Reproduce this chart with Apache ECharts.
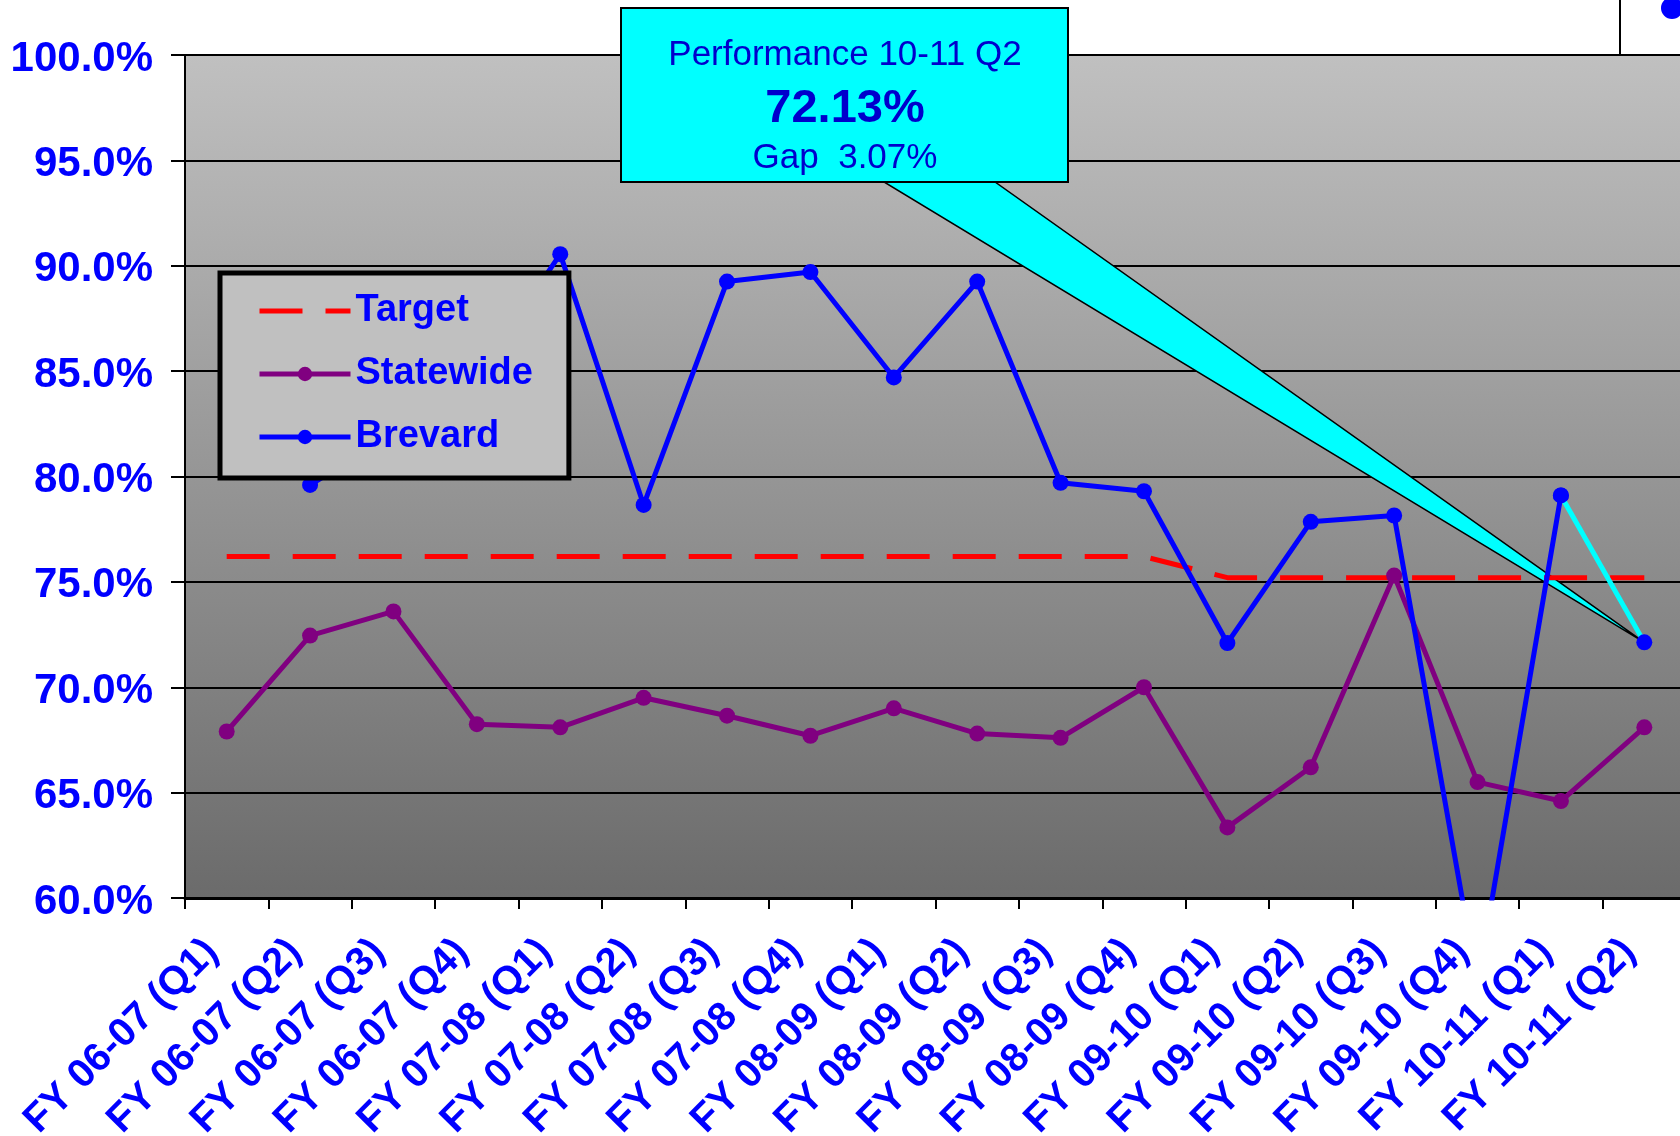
<!DOCTYPE html>
<html>
<head>
<meta charset="utf-8">
<script src="https://cdn.jsdelivr.net/npm/echarts@6/dist/echarts.min.js"></script>
<style>
  html, body { margin: 0; padding: 0; background: #fff; overflow: hidden; }
  #main { width: 1680px; height: 1136px; }
</style>
</head>
<body>
<div id="main"></div>
<script>
var quarters = [
  'FY 06-07 (Q1)', 'FY 06-07 (Q2)', 'FY 06-07 (Q3)', 'FY 06-07 (Q4)',
  'FY 07-08 (Q1)', 'FY 07-08 (Q2)', 'FY 07-08 (Q3)', 'FY 07-08 (Q4)',
  'FY 08-09 (Q1)', 'FY 08-09 (Q2)', 'FY 08-09 (Q3)', 'FY 08-09 (Q4)',
  'FY 09-10 (Q1)', 'FY 09-10 (Q2)', 'FY 09-10 (Q3)', 'FY 09-10 (Q4)',
  'FY 10-11 (Q1)', 'FY 10-11 (Q2)'
];
var target = [76.2, 76.2, 76.2, 76.2, 76.2, 76.2, 76.2, 76.2, 76.2, 76.2, 76.2, 76.2,
  75.2, 75.2, 75.2, 75.2, 75.2, 75.2];
var statewide = [67.9, 72.45, 73.6, 68.25, 68.1, 69.5, 68.65, 67.7, 69.0, 67.8, 67.6, 70.0,
  63.35, 66.2, 75.3, 65.5, 64.6, 68.1];
var brevard = [null, 79.6, 82.0, 84.7, 90.55, 78.65, 89.25, 89.7, 84.7, 89.25, 79.7, 79.3,
  72.1, 77.85, 78.15, 55.9, 79.1, 72.13];
var yMin = 60, yMax = 100, yStep = 5;
var calloutLines = ['Performance 10-11 Q2', '72.13%', 'Gap  3.07%'];

var font = 'Liberation Sans, Arial, sans-serif';
var last = brevard.length - 1;
var dash = [43, 23];

var chart = echarts.init(document.getElementById('main'), null, { renderer: 'canvas' });

var option = {
  animation: false,
  backgroundColor: '#ffffff',
  grid: {
    left: 185, top: 55, right: -6, bottom: 238,
    outerBoundsMode: 'none',
    containLabel: false,
    show: true,
    borderWidth: 0,
    backgroundColor: new echarts.graphic.LinearGradient(0, 0, 0, 1, [
      { offset: 0, color: '#c0c0c0' },
      { offset: 1, color: '#6b6b6b' }
    ])
  },
  legend: {
    z: 10,
    left: 220, top: 273,
    orient: 'vertical',
    data: [
      { name: 'Target', itemStyle: { opacity: 0 }, lineStyle: { width: 5, type: dash, color: '#ff0000' } },
      { name: 'Statewide', lineStyle: { width: 5, color: '#800080' } },
      { name: 'Brevard', lineStyle: { width: 5, color: '#0000ff' } }
    ],
    itemWidth: 91, itemHeight: 18, itemGap: 25,
    padding: [19, 36, 22, 37],
    backgroundColor: '#c0c0c0',
    borderColor: '#000', borderWidth: 5,
    textStyle: { color: '#0000ff', fontSize: 38, fontWeight: 'bold', fontFamily: font },
    selectedMode: false
  },
  xAxis: {
    type: 'category',
    data: quarters,
    boundaryGap: true,
    axisLine: { lineStyle: { color: '#000', width: 3 } },
    axisTick: { show: true, length: 11, lineStyle: { color: '#000', width: 2 } },
    axisLabel: {
      interval: 0, rotate: 45, margin: 33, padding: [0, 21, 0, 0],
      color: '#0000ff', fontSize: 40, fontWeight: 'bold', fontFamily: font
    }
  },
  yAxis: {
    type: 'value',
    min: yMin, max: yMax, interval: yStep,
    axisLine: { show: true, lineStyle: { color: '#000', width: 2 } },
    axisTick: { show: true, length: 14, lineStyle: { color: '#000', width: 2 } },
    splitLine: { lineStyle: { color: '#000', width: 2 } },
    axisLabel: {
      margin: 32,
      color: '#0000ff', fontSize: 42, fontWeight: 'bold', fontFamily: font,
      formatter: function (v) { return '{v|' + v.toFixed(1) + '%}'; },
      rich: {
        v: {
          color: '#0000ff', fontSize: 42, fontWeight: 'bold', fontFamily: font,
          lineHeight: 50, verticalAlign: 'bottom'
        }
      }
    }
  },
  series: [
    {
      name: 'Target', type: 'line', data: target,
      symbol: 'none',
      lineStyle: { color: '#ff0000', width: 5, type: dash },
      itemStyle: { color: '#ff0000' },
      z: 2
    },
    {
      name: 'Statewide', type: 'line', data: statewide,
      symbol: 'circle', symbolSize: 16, showAllSymbol: true,
      lineStyle: { color: '#800080', width: 5 },
      itemStyle: { color: '#800080' },
      z: 3
    },
    {
      name: 'Brevard', type: 'line',
      data: brevard.map(function (v, i) { return i < last ? v : null; }),
      symbol: 'circle', symbolSize: 16, showAllSymbol: true,
      lineStyle: { color: '#0000ff', width: 5 },
      itemStyle: { color: '#0000ff' },
      z: 4
    },
    {
      // last step of Brevard drawn in cyan
      name: 'Brevard Q2', type: 'line',
      data: brevard.map(function (v, i) { return i >= last - 1 ? v : null; }),
      symbol: 'circle', symbolSize: 16, showAllSymbol: true,
      lineStyle: { color: '#00ffff', width: 5 },
      itemStyle: { color: '#0000ff' },
      z: 5
    }
  ]
};

chart.setOption(option);

var tip = chart.convertToPixel({ xAxisIndex: 0, yAxisIndex: 0 }, [last, brevard[last]]);

chart.setOption({
  graphic: [
    {
      type: 'rect', z: 20,
      shape: { x: 1620, y: -5, width: 100, height: 60 },
      style: { fill: '#fff', stroke: '#000', lineWidth: 2 }
    },
    {
      type: 'circle', z: 21,
      shape: { cx: 1672, cy: 8, r: 11 },
      style: { fill: '#0000ff' }
    },
    {
      type: 'polygon', z: 1,
      shape: { points: [[884, 182], [995, 182], tip] },
      style: { fill: '#00ffff', stroke: '#000', lineWidth: 1.5 }
    },
    {
      type: 'rect', z: 30,
      shape: { x: 621, y: 8, width: 447, height: 174 },
      style: { fill: '#00ffff', stroke: '#000', lineWidth: 2 }
    },
    {
      type: 'text', z: 31, x: 845, y: 55,
      style: { text: calloutLines[0], fill: '#0000cc', font: '35px ' + font, align: 'center', verticalAlign: 'middle' }
    },
    {
      type: 'text', z: 31, x: 845, y: 109,
      style: { text: calloutLines[1], fill: '#0000cc', font: 'bold 47px ' + font, align: 'center', verticalAlign: 'middle' }
    },
    {
      type: 'text', z: 31, x: 845, y: 158,
      style: { text: calloutLines[2], fill: '#0000cc', font: '35px ' + font, align: 'center', verticalAlign: 'middle' }
    }
  ]
});
</script>
</body>
</html>
